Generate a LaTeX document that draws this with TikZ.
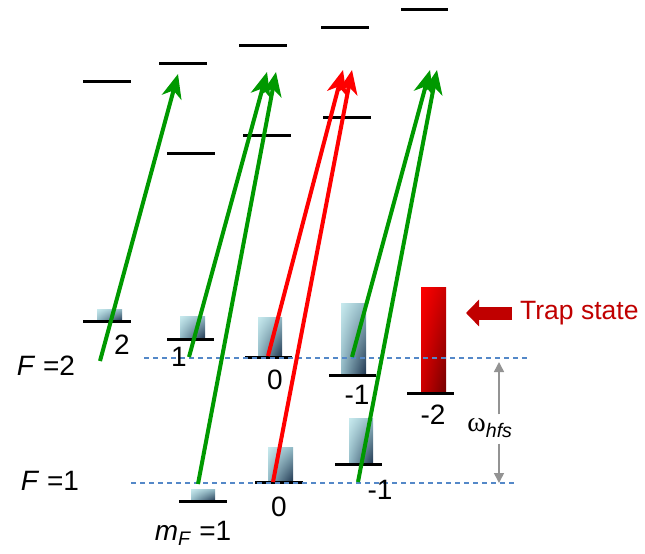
\documentclass[tikz,border=0pt]{standalone}
\usepackage{fontspec}
\setmainfont{Liberation Sans}
\newfontfamily\omegafont{Liberation Serif}
\usetikzlibrary{arrows.meta, positioning, shadings}

\definecolor{pumpgreen}{RGB}{0,153,0}
\definecolor{pumpred}{RGB}{255,0,0}
\definecolor{trapred}{RGB}{192,0,0}
\definecolor{barlight}{RGB}{200,234,238}
\definecolor{barmid}{RGB}{146,186,198}
\definecolor{bardark}{RGB}{30,52,78}
\definecolor{hfsblue}{RGB}{84,136,200}

\tikzset{
	level/.style={line width=3pt},
	popbar/.style={upper left=barlight, upper right=barmid, lower left=barmid, lower right=bardark},
	trapbar/.style={upper left=red, upper right=red!80!black, lower left=red!80!black, lower right=red!45!black},
	pump/.style={line width=4pt, -{Stealth[length=24pt,width=20pt,inset=7pt]}},
	hfsline/.style={hfsblue, line width=1.2pt, dash pattern=on 5pt off 4pt},
	gaparrow/.style={gray!85, line width=1.5pt, -{Triangle[length=10pt,width=10pt]}},
	mlabel/.style={font=\fontsize{28}{30}\selectfont, inner sep=0pt},
}

\begin{document}
\begin{tikzpicture}[x=1pt, y=-1pt]
	\useasboundingbox (0,0) rectangle (645,554);
	
	% excited levels
	\draw[level] (83,81) -- (131,81);
	\draw[level] (159,63) -- (207,63);
	\draw[level] (239,45) -- (287,45);
	\draw[level] (321,27) -- (369,27);
	\draw[level] (401,9) -- (448,9);
	\draw[level] (167,153) -- (215,153);
	\draw[level] (243,135) -- (291,135);
	\draw[level] (323,117) -- (371,117);
	
	% populations
	\shade[popbar] (97,309) rectangle (122,321);
	\shade[popbar] (180,316) rectangle (205,339);
	\shade[popbar] (258,317) rectangle (282,357);
	\shade[popbar] (341,303) rectangle (366,375);
	\shade[trapbar] (421,287) rectangle (446,393);
	\shade[popbar] (191,489) rectangle (215,501);
	\shade[popbar] (268,447) rectangle (293,482);
	\shade[popbar] (349,418) rectangle (373,464);
	
	% ground levels F=2 and F=1
	\draw[level] (83,321) -- (131,321);
	\draw[level] (167,339) -- (214,339);
	\draw[level] (245,357) -- (292,357);
	\draw[level] (329,375) -- (376,375);
	\draw[level] (407,393) -- (454,393);
	\draw[level] (179,501) -- (227,501);
	\draw[level] (255,482) -- (303,482);
	\draw[level] (335,464) -- (382,464);
	
	% hyperfine lines
	\draw[hfsline] (144,358) -- (528,358);
	\draw[hfsline] (131,483) -- (517,483);
	
	% laser transitions
	\coordinate (s1) at (100,361);  \coordinate (t1) at (178,74);
	\coordinate (s2) at (189,357);  \coordinate (t2) at (267,72);
	\coordinate (s3) at (198,484);  \coordinate (t3) at (276,72);
	\coordinate (s4) at (268,356);  \coordinate (t4) at (343,70);
	\coordinate (s5) at (273,482);  \coordinate (t5) at (352,70);
	\coordinate (s6) at (352,357);  \coordinate (t6) at (430,70);
	\coordinate (s7) at (358,482);  \coordinate (t7) at (437,70);
	\draw[pump, pumpgreen] (s1) -- (t1);
	\draw[pump, pumpgreen] (s2) -- (t2);
	\draw[pump, pumpgreen] (s3) -- (t3);
	\draw[pump, pumpred] (s4) -- (t4);
	\draw[pump, pumpred] (s5) -- (t5);
	\draw[pump, pumpgreen] (s6) -- (t6);
	\draw[pump, pumpgreen] (s7) -- (t7);
	
	% labels
	\node[mlabel] (m2) at (122,345) {2};
	\node[mlabel] (m1) at (179,357) {1};
	\node[mlabel] (m0) at (275,380) {0};
	\node[mlabel] (mm1) at (357,395) {-1};
	\node[mlabel] (mm2) at (433,415) {-2};
	\node[mlabel] (n0) at (279,507) {0};
	\node[mlabel] (nm1) at (380,490) {-1};
	\node[mlabel] (mF) at (193,533) {\textit{m}\textsubscript{\textit{F}} =1};
	\node[mlabel] (F2) at (46,366) {\textit{F} =2};
	\node[mlabel] (F1) at (50,481) {\textit{F} =1};
	
	% hyperfine splitting
	\node[mlabel] (whfs) at (490,428) {{\omegafont ω}\textsubscript{\textit{hfs}}};
	\coordinate (hfsup) at (499,362);
	\coordinate (hfsdown) at (499,483);
	\draw[gaparrow] (whfs.north -| hfsup) ++(0,-4) -- (hfsup);
	\draw[gaparrow] (whfs.south -| hfsdown) ++(0,6) -- (hfsdown);
	
	% trap state
	\node[mlabel, anchor=west, inner xsep=8pt, text=trapred, font=\fontsize{26.5}{28}\selectfont] (trap) at (512,313) {Trap state};
	\coordinate (traptip) at (466,313);
	\draw[trapred, line width=13pt, -{Triangle[length=13pt,width=26pt]}] (trap.west) -- (traptip);
\end{tikzpicture}
\end{document}
